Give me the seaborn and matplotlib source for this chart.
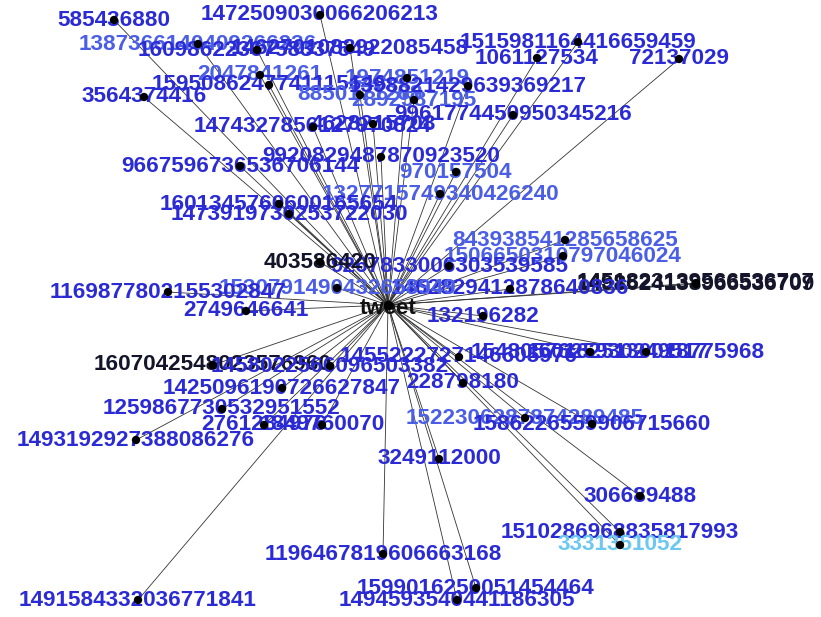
import pandas as pd
import seaborn as sns
import matplotlib.pyplot as plt

sns.set_style("white")
plt.rcParams["font.family"] = ["Liberation Sans", "DejaVu Sans"]

# star network: every node hangs off the "tweet" node
center_name = "tweet"
center_xy = (388, 305)

node_ids = [
    "585436880", "1472509030066206213", "1387366140409266236", "1609862236758337549",
    "1462701088922085458", "1515981164416659459", "1061127534", "72137029",
    "2047841261", "1595086247741115648", "3564374416", "1974851219",
    "8850171268", "2892587195", "1398821429639369217", "9961774450950345216",
    "1474327856127970824", "4628215708", "9920829487870923520", "9667596736536706144",
    "970157504", "1327715749340426240", "1601345760600165654", "1473919730253722030",
    "843938541285658625", "1506650310797046024", "9267833006303539585", "403586420",
    "1451823139566536707", "1498624138966536709", "1462829412878640836", "1530791490432658949",
    "1169877802155302847", "2749646641", "132196282", "1607042548023576960",
    "1458022566096503382", "1455222727146605976", "1548057625930249517", "1601625130018775968",
    "1425096190726627847", "228798180", "1259867730532951552", "2761284976",
    "1849760070", "1493192927388086276", "1522306287874289485", "1586226559906715660",
    "3249112000", "306689488", "1510286968835817993", "3331351052",
    "1196467819606663168", "1599016250051454464", "1494593540441186305", "1491584332036771841",
]

# label colour group of each node
node_group = [
    "b", "b", "l", "b", "b", "b", "b", "b",
    "l", "b", "b", "l", "l", "l", "b", "b",
    "b", "b", "b", "b", "l", "l", "b", "b",
    "l", "l", "b", "k", "k", "k", "b", "l",
    "b", "b", "b", "k", "b", "b", "b", "b",
    "b", "b", "b", "b", "b", "b", "l", "b",
    "b", "b", "b", "c", "b", "b", "b", "b",
]

# layout (pixel-like coordinates of the drawing)
layout_x = [
    114, 320, 198, 257, 350, 578, 537, 679,
    260, 269, 144, 407, 360, 414, 468, 513,
    313, 373, 381, 240, 456, 440, 279, 289,
    565, 563, 449, 320, 696, 696, 510, 337,
    168, 246, 483, 213, 330, 459, 590, 646,
    282, 463, 222, 264, 322, 136, 525, 592,
    439, 640, 620, 620, 383, 476, 457, 138,
]
layout_y = [
    20, 15, 44, 50, 48, 42, 58, 59,
    75, 85, 97, 78, 95, 100, 86, 115,
    127, 124, 157, 166, 172, 194, 204, 214,
    240, 256, 266, 262, 283, 284, 289, 288,
    292, 311, 316, 365, 366, 357, 352, 352,
    388, 383, 409, 425, 425, 440, 418, 424,
    459, 496, 532, 545, 554, 588, 600, 600,
]

palette = {"b": "#2b2bd6", "l": "#4a5ee6", "k": "#14142a", "c": "#6cc8f0"}

nodes = pd.DataFrame({"id": node_ids, "group": node_group, "x": layout_x, "y": layout_y})

fig = plt.figure(figsize=(8.21, 6.17), dpi=100)
ax = fig.add_axes([0, 0, 1, 1])

# edges
for _, r in nodes.iterrows():
    ax.plot([center_xy[0], r["x"]], [center_xy[1], r["y"]], color="#333333", lw=0.6, zorder=1)

# labels (centre label sits underneath the others)
ax.text(center_xy[0], center_xy[1] + 3, center_name, color="#111111", fontsize=16, fontweight="bold",
        ha="center", va="center", zorder=1.5)
for _, r in nodes.iterrows():
    ax.text(r["x"], r["y"], r["id"], color=palette[r["group"]], fontsize=16.2, fontweight="bold",
            ha="center", va="center", zorder=2)

# nodes
sns.scatterplot(data=nodes, x="x", y="y", color="black", s=36, edgecolor="none", ax=ax, zorder=3)
ax.scatter([center_xy[0]], [center_xy[1]], color="black", s=36, zorder=3)

ax.set_xlim(0, 821)
ax.set_ylim(617, 0)
ax.set_axis_off()

fig.savefig("out.png", dpi=100)
